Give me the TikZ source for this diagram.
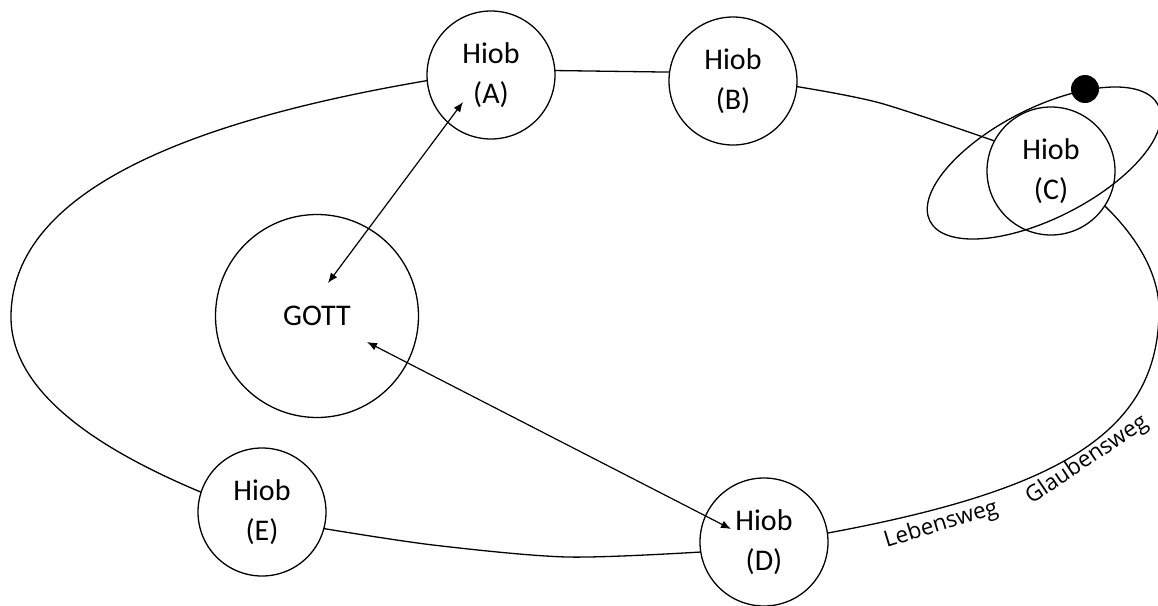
\documentclass[tikz,border=0pt]{standalone}
\usepackage{fontspec}
\setmainfont{Carlito}
\newfontfamily\hand{Open Sans}
\usetikzlibrary{arrows.meta}
\begin{document}
\begin{tikzpicture}[x=1pt,y=-1pt,
  line width=1.3pt,
  hiob/.style={circle,draw,fill=white,minimum size=128pt,inner sep=0pt,outer sep=0pt,
    align=center,font=\fontsize{30}{40}\selectfont},
  gott/.style={circle,draw,fill=white,minimum size=203pt,inner sep=0pt,outer sep=0pt,
    font=\fontsize{30}{40}\selectfont},
  way/.style={line width=1.3pt},
  arr/.style={{Latex[length=10pt,width=8pt]}-{Latex[length=10pt,width=8pt]}, line width=1.2pt},
  weg/.style={font=\hand\fontsize{22.5}{27}\selectfont, inner sep=0pt}
]
\useasboundingbox (0,0) rectangle (1158,605);
% circles
\node[gott] (G) at (317,316) {GOTT};
\node[hiob] (A) at (491,75) {Hiob\\(A)};
\node[hiob] (B) at (733,81) {Hiob\\(B)};
\node[hiob] (C) at (1051,171) {Hiob\\(C)};
\node[hiob] (D) at (764,542) {Hiob\\(D)};
\node[hiob] (E) at (262,512) {Hiob\\(E)};
% way segments
\coordinate (L) at (11,317);
\coordinate (R) at (1159,310);
\draw[way] (B.172) -- (A.4);
\draw[way] (A.185) .. controls (201,119) and (11,187) .. (L)
                   .. controls (11,397) and (110,454) .. (E.162);
\draw[way] plot[smooth] coordinates {(E.-15.5) (433,545) (567,557) (D.189)};
\draw[way] (D.8) .. controls (1060,490) and (1159,432) .. (R)
                 .. controls (1159,270) and (1132,232) .. (C.-33.5);
\draw[way] plot[smooth] coordinates {(C.152) (880,103) (B.-5.5)};
% orbit around C
\draw[way, rotate around={27:(1044,163)}] (1044,163) ellipse [x radius=128pt, y radius=55pt];
\fill (1085,89) circle [radius=14pt];
% arrows
\coordinate (a1) at (463,102);
\coordinate (g1) at (328,283);
\coordinate (g2) at (367,342);
\coordinate (d1) at (731,529);
\draw[arr] (g1) -- (a1);
\draw[arr] (g2) -- (d1);
% labels
\node[weg, anchor=base west, rotate=17] (lw) at (886,548) {Lebensweg};
\node[weg, anchor=base west, rotate=34] (gw) at (1031,505) {Glaubensweg};
\end{tikzpicture}
\end{document}
